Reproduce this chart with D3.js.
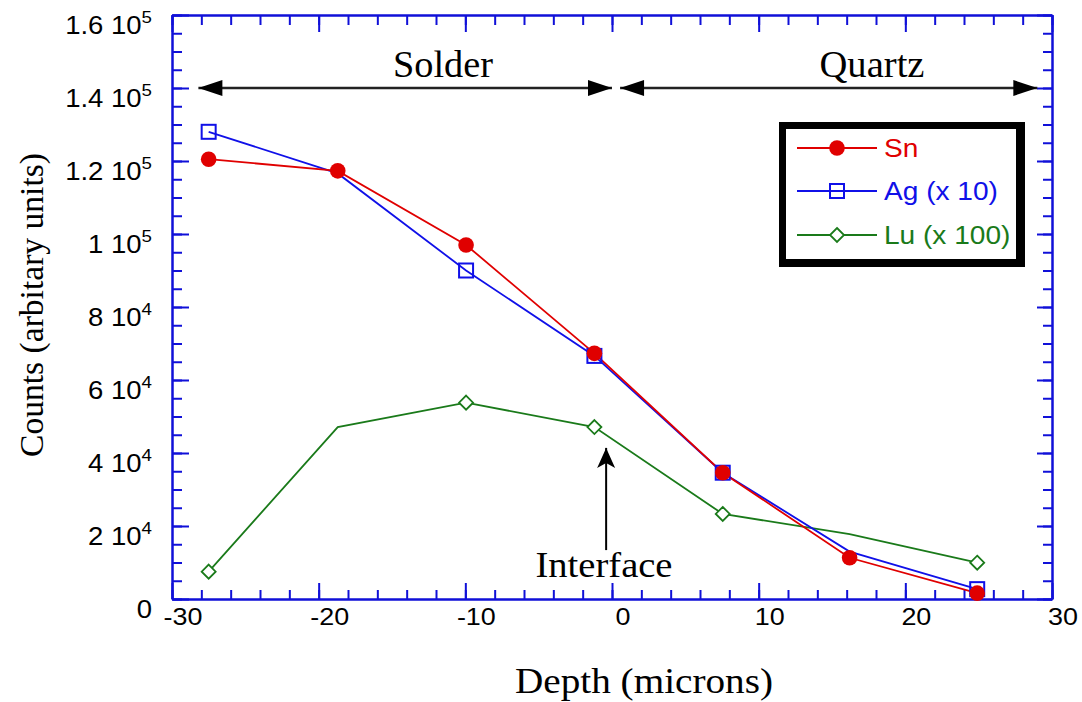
<!DOCTYPE html>
<html>
<head>
<meta charset="utf-8">
<script src="https://cdn.jsdelivr.net/npm/d3@7"></script>
<style>
body { margin: 0; background: #ffffff; }
</style>
</head>
<body>
<svg id="chart" width="1082" height="702"></svg>
<script>
// data ************************************************************************
var depth = [-27.5, -18.7, -9.95, -1.2, 7.55, 16.2, 24.9]
var snCounts = [120500, 117300, 97000, 67300, 34600, 11300, 1600]
var agCounts = [128000, 116600, 90000, 66600, 34600, 13000, 2700]   // Ag (x 10)
var luCounts = [7500, 47100, 53800, 47100, 23300, 17800, 9950]      // Lu (x 100)
var measured = [true, false, true, true, true, false, true]         // Ag / Lu markers

var xTicks = [-30, -20, -10, 0, 10, 20, 30]
var yTicks = [0, 20000, 40000, 60000, 80000, 100000, 120000, 140000, 160000]
var yMant = ["0", "2", "4", "6", "8", "1", "1.2", "1.4", "1.6"]
var yExp = ["", "4", "4", "4", "4", "5", "5", "5", "5"]

var seriesNames = ["Sn", "Ag (x 10)", "Lu (x 100)"]
var seriesCols = ["#e00000", "#1010e8", "#1a7a1a"]

// annotation positions (data units)
var solderSpan = [-28.2, 0.0]
var quartzSpan = [0.55, 29.0]
var spanY = 140000
var interfaceX = -0.4
var interfaceArrow = [13400, 41400]

var axisCol = "#1010d8"
var serif = "'Liberation Serif', 'Times New Roman', serif"
var sans = "'Liberation Sans', Arial, sans-serif"

var svg = d3.select("#chart")

var x = d3.scaleLinear().domain([-30, 30]).range([172, 1052])
var y = d3.scaleLinear().domain([0, 160000]).range([599, 15])

var xMinor = d3.range(-30, 30.1, 2)
var yMinor = d3.range(0, 160001, 5000)

// Axes (ticks pointing inward) ***********************************************
function styleAxis(g) {
    g.selectAll("line").style("stroke", axisCol).style("stroke-width", 2)
    g.selectAll("path").style("stroke", axisCol).style("stroke-width", 2)
    g.selectAll("text").remove()
}

svg.append("g").attr("transform", "translate(0,599)")
    .call(d3.axisBottom(x).tickValues(xMinor).tickSize(-9).tickSizeOuter(0).tickFormat(""))
    .call(styleAxis)
svg.append("g").attr("transform", "translate(0,599)")
    .call(d3.axisBottom(x).tickValues(xTicks).tickSize(-16).tickSizeOuter(0).tickFormat(""))
    .call(styleAxis)
svg.append("g").attr("transform", "translate(0,15)")
    .call(d3.axisTop(x).tickValues(xMinor).tickSize(-10).tickSizeOuter(0).tickFormat(""))
    .call(styleAxis)
svg.append("g").attr("transform", "translate(0,15)")
    .call(d3.axisTop(x).tickValues(xTicks).tickSize(-17).tickSizeOuter(0).tickFormat(""))
    .call(styleAxis)
svg.append("g").attr("transform", "translate(172,0)")
    .call(d3.axisLeft(y).tickValues(yMinor).tickSize(-10).tickSizeOuter(0).tickFormat(""))
    .call(styleAxis)
svg.append("g").attr("transform", "translate(172,0)")
    .call(d3.axisLeft(y).tickValues(yTicks).tickSize(-17).tickSizeOuter(0).tickFormat(""))
    .call(styleAxis)
svg.append("g").attr("transform", "translate(1052,0)")
    .call(d3.axisRight(y).tickValues(yMinor).tickSize(-9).tickSizeOuter(0).tickFormat(""))
    .call(styleAxis)
svg.append("g").attr("transform", "translate(1052,0)")
    .call(d3.axisRight(y).tickValues(yTicks).tickSize(-15).tickSizeOuter(0).tickFormat(""))
    .call(styleAxis)

// tick labels (the original type is a bit wider than Arial, so stretch it)
svg.append("g").selectAll("text").data(xTicks).enter().append("text")
    .attr("transform", function(d){ return "translate(" + (x(d) + 11) + ",625) scale(1.17,1)" })
    .attr("text-anchor", "middle")
    .style("font-family", sans).style("font-size", "23px")
    .text(function(d){ return d })

var yLab = svg.append("g").selectAll("text").data(yTicks).enter().append("text")
    .attr("transform", function(d){ return "translate(152," + (y(d) + 19) + ") scale(1.1,1)" })
    .attr("text-anchor", "end")
    .style("font-family", sans).style("font-size", "25px")
yLab.append("tspan").text(function(d, i){ return yExp[i] == "" ? yMant[i] : yMant[i] + " 10" })
yLab.append("tspan").attr("dy", -11).style("font-size", "17px")
    .text(function(d, i){ return yExp[i] })

// axis titles
svg.append("text")
    .attr("x", 644).attr("y", 693)
    .attr("text-anchor", "middle")
    .attr("textLength", 258).attr("lengthAdjust", "spacingAndGlyphs")
    .style("font-family", serif).style("font-size", "36px")
    .text("Depth (microns)")

svg.append("text")
    .attr("transform", "translate(43,305) rotate(-90)")
    .attr("text-anchor", "middle")
    .attr("textLength", 304).attr("lengthAdjust", "spacingAndGlyphs")
    .style("font-family", serif).style("font-size", "34px")
    .text("Counts (arbitary units)")

// Annotations ****************************************************************
var defs = svg.append("defs")
defs.append("marker").attr("id", "headEnd")
    .attr("markerUnits", "userSpaceOnUse")
    .attr("markerWidth", 26).attr("markerHeight", 18)
    .attr("refX", 24).attr("refY", 8).attr("orient", "auto")
    .append("path").attr("d", "M0,0 L24,8 L0,16 Z").style("fill", "#000")
defs.append("marker").attr("id", "headStart")
    .attr("markerUnits", "userSpaceOnUse")
    .attr("markerWidth", 26).attr("markerHeight", 18)
    .attr("refX", 0).attr("refY", 8).attr("orient", "auto")
    .append("path").attr("d", "M24,0 L0,8 L24,16 Z").style("fill", "#000")
defs.append("marker").attr("id", "notchHead")
    .attr("markerUnits", "userSpaceOnUse")
    .attr("markerWidth", 22).attr("markerHeight", 20)
    .attr("refX", 20).attr("refY", 9).attr("orient", "auto")
    .append("path").attr("d", "M0,0 L20,9 L0,18 L5,9 Z").style("fill", "#000")

var spans = [solderSpan, quartzSpan]
svg.append("g").selectAll("line").data(spans).enter().append("line")
    .attr("x1", function(d){ return x(d[0]) })
    .attr("x2", function(d){ return x(d[1]) })
    .attr("y1", y(spanY)).attr("y2", y(spanY))
    .style("stroke", "#222").style("stroke-width", 2.5)
    .attr("marker-start", "url(#headStart)")
    .attr("marker-end", "url(#headEnd)")

svg.append("text").attr("x", 443).attr("y", 77)
    .attr("text-anchor", "middle")
    .attr("textLength", 100).attr("lengthAdjust", "spacingAndGlyphs")
    .style("font-family", serif).style("font-size", "37px")
    .text("Solder")
svg.append("text").attr("x", 872).attr("y", 77)
    .attr("text-anchor", "middle")
    .attr("textLength", 105).attr("lengthAdjust", "spacingAndGlyphs")
    .style("font-family", serif).style("font-size", "37px")
    .text("Quartz")

svg.append("line")
    .attr("x1", x(interfaceX)).attr("x2", x(interfaceX))
    .attr("y1", y(interfaceArrow[0])).attr("y2", y(interfaceArrow[1]))
    .style("stroke", "#000").style("stroke-width", 2)
    .attr("marker-end", "url(#notchHead)")
svg.append("text").attr("x", 604).attr("y", 577)
    .attr("text-anchor", "middle")
    .attr("textLength", 137).attr("lengthAdjust", "spacingAndGlyphs")
    .style("font-family", serif).style("font-size", "36px")
    .text("Interface")

// Series *********************************************************************
var line = d3.line().x(function(d){ return x(d[0]) }).y(function(d){ return y(d[1]) })
var allSeries = [snCounts, agCounts, luCounts]

// draw green, then blue, then red on top
var order = [2, 1, 0]
order.forEach(function(k){
    var pts = depth.map(function(d, i){ return [d, allSeries[k][i]] })
    svg.append("path").datum(pts)
        .attr("d", line)
        .style("fill", "none")
        .style("stroke", seriesCols[k])
        .style("stroke-width", 1.8)
})

// Lu diamonds
svg.append("g").selectAll("path").data(depth.filter(function(d, i){ return measured[i] })).enter()
    .append("path")
    .attr("d", function(d){
        var i = depth.indexOf(d), cx = x(d), cy = y(luCounts[i])
        return "M" + cx + "," + (cy - 7) + " L" + (cx + 7) + "," + cy + " L" + cx + "," + (cy + 7) + " L" + (cx - 7) + "," + cy + " Z"
    })
    .style("fill", "#fff").style("stroke", seriesCols[2]).style("stroke-width", 1.8)

// Ag squares
svg.append("g").selectAll("rect").data(depth.filter(function(d, i){ return measured[i] })).enter()
    .append("rect")
    .attr("x", function(d){ return x(d) - 7 })
    .attr("y", function(d){ return y(agCounts[depth.indexOf(d)]) - 7 })
    .attr("width", 14).attr("height", 14)
    .style("fill", "none").style("stroke", seriesCols[1]).style("stroke-width", 2)

// Sn dots
svg.append("g").selectAll("circle").data(depth).enter()
    .append("circle")
    .attr("cx", function(d){ return x(d) })
    .attr("cy", function(d, i){ return y(snCounts[i]) })
    .attr("r", 7.8)
    .style("fill", seriesCols[0])

// Legend *********************************************************************
svg.append("rect").attr("x", 779).attr("y", 122).attr("width", 246).attr("height", 145)
    .style("fill", "#000")
svg.append("rect").attr("x", 786).attr("y", 129).attr("width", 230).attr("height", 130)
    .style("fill", "#fff")

var legY = [148, 191, 235]
for (key in seriesNames) {
    svg.append("line").attr("x1", 797).attr("x2", 877).attr("y1", legY[key]).attr("y2", legY[key])
        .style("stroke", seriesCols[key]).style("stroke-width", 1.8)
    svg.append("text").attr("transform", "translate(884," + (legY[key] + 9) + ") scale(1.08,1)")
        .style("font-family", sans).style("font-size", "26px")
        .style("fill", seriesCols[key])
        .text(seriesNames[key])
}
svg.append("circle").attr("cx", 837).attr("cy", legY[0]).attr("r", 7.8).style("fill", seriesCols[0])
svg.append("rect").attr("x", 830).attr("y", legY[1] - 7).attr("width", 14).attr("height", 14)
    .style("fill", "none").style("stroke", seriesCols[1]).style("stroke-width", 2)
svg.append("path")
    .attr("d", "M837," + (legY[2] - 7) + " L844," + legY[2] + " L837," + (legY[2] + 7) + " L830," + legY[2] + " Z")
    .style("fill", "#fff").style("stroke", seriesCols[2]).style("stroke-width", 1.8)
</script>
</body>
</html>
